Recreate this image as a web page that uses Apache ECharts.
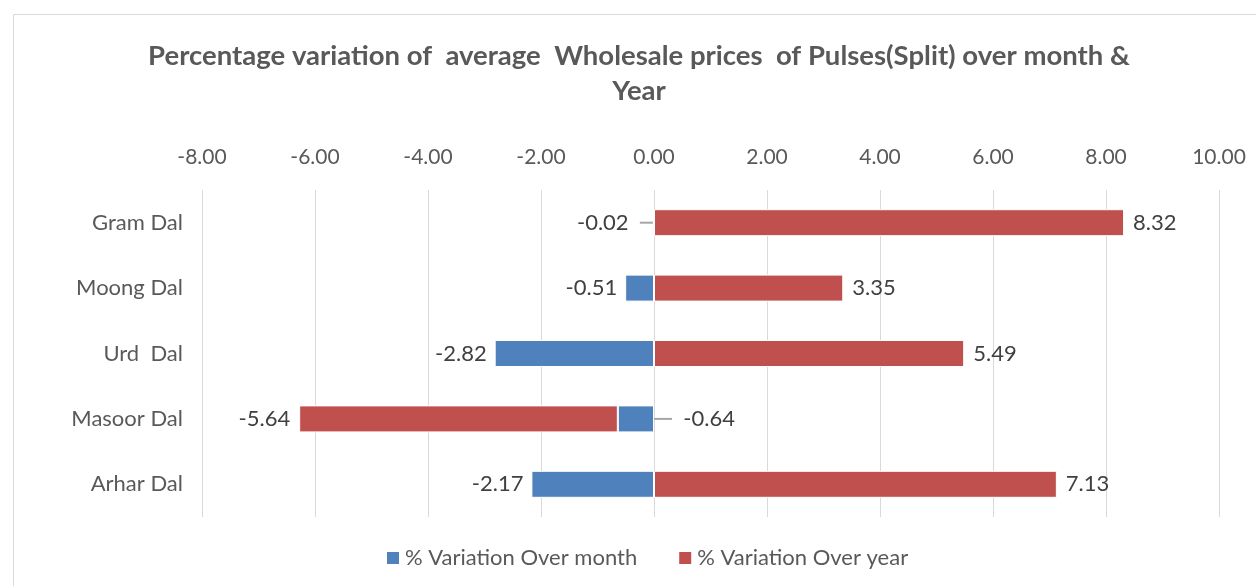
<!DOCTYPE html>
<html>
<head>
<meta charset="utf-8">
<script src="https://cdn.jsdelivr.net/npm/echarts@6/dist/echarts.min.js"></script>
<style>
  html, body { margin: 0; padding: 0; background: #fff; }
  #chart { width: 1256px; height: 586px; }
</style>
</head>
<body>
<div id="chart"></div>
<script>
var pulses = ['Gram Dal', 'Moong Dal', 'Urd  Dal', 'Masoor Dal', 'Arhar Dal'];
var overMonth = [-0.02, -0.51, -2.82, -0.64, -2.17];
var overYear = [8.32, 3.35, 5.49, -5.64, 7.13];

var blue = '#4F81BD';
var red = '#C0504D';
var font = 'Lato';

function monthItem(v, i) {
    var item = { value: v };
    if (i === 0) {
        item.labelLine = { show: true };
    }
    if (i === 3) {
        item.label = { position: 'right' };
        item.labelLine = { show: true };
    }
    return item;
}

function yearItem(v) {
    return { value: v, label: { position: v < 0 ? 'left' : 'right' } };
}

var myChart = echarts.init(document.getElementById('chart'));
var option = {
    backgroundColor: '#fff',
    animation: false,
    textStyle: { fontFamily: font },
    graphic: [{
        type: 'rect',
        shape: { x: 13.5, y: 14.5, width: 1260, height: 600 },
        style: { fill: 'none', stroke: '#d9d9d9', lineWidth: 1 },
        silent: true
    }],
    title: {
        text: 'Percentage variation of  average  Wholesale prices  of Pulses(Split) over month &\nYear',
        left: 634,
        top: 34,
        textAlign: 'center',
        textStyle: {
            fontFamily: font,
            fontSize: 27.5,
            fontWeight: 'bold',
            color: '#595959',
            lineHeight: 35
        }
    },
    legend: {
        bottom: 12,
        left: 380,
        itemWidth: 14,
        itemHeight: 14,
        itemGap: 40,
        icon: 'rect',
        textStyle: { fontFamily: font, fontSize: 22, color: '#595959' },
        data: ['% Variation Over month', '% Variation Over year']
    },
    grid: { left: 202, right: 37, top: 190, bottom: 69 },
    xAxis: {
        type: 'value',
        position: 'top',
        min: -8,
        max: 10,
        interval: 2,
        axisLine: { show: false },
        axisTick: { show: false },
        axisLabel: {
            margin: 22,
            fontFamily: font,
            fontSize: 21,
            color: '#595959',
            formatter: function (v) { return v.toFixed(2); }
        },
        splitLine: { lineStyle: { color: '#d9d9d9', width: 1 } }
    },
    yAxis: {
        type: 'category',
        inverse: true,
        data: pulses,
        axisLine: { show: false },
        axisTick: { show: false },
        axisLabel: { margin: 19, fontFamily: font, fontSize: 22, color: '#595959' }
    },
    series: [{
        name: '% Variation Over month',
        type: 'bar',
        stack: 'total',
        barWidth: 27,
        itemStyle: { color: blue, borderColor: '#fff', borderWidth: 1 },
        label: {
            show: true,
            position: 'left',
            distance: 8,
            fontFamily: font,
            fontSize: 22,
            color: '#404040',
            formatter: function (p) {
                var s = p.value.toFixed(2);
                if (p.dataIndex === 0) return s + '  ';
                if (p.dataIndex === 3) return '  ' + s;
                return s;
            }
        },
        labelLayout: function (p) {
            if (p.dataIndex === 0) return { dx: -5 };
            if (p.dataIndex === 3) return { dx: 10 };
            return {};
        },
        labelLine: { show: false, lineStyle: { color: '#a6a6a6', width: 2 } },
        data: overMonth.map(monthItem)
    }, {
        name: '% Variation Over year',
        type: 'bar',
        stack: 'total',
        barWidth: 27,
        itemStyle: { color: red, borderColor: '#fff', borderWidth: 1 },
        label: {
            show: true,
            distance: 9,
            fontFamily: font,
            fontSize: 22,
            color: '#404040',
            formatter: function (p) { return p.value.toFixed(2); }
        },
        data: overYear.map(yearItem)
    }]
};
myChart.setOption(option);
</script>
</body>
</html>
